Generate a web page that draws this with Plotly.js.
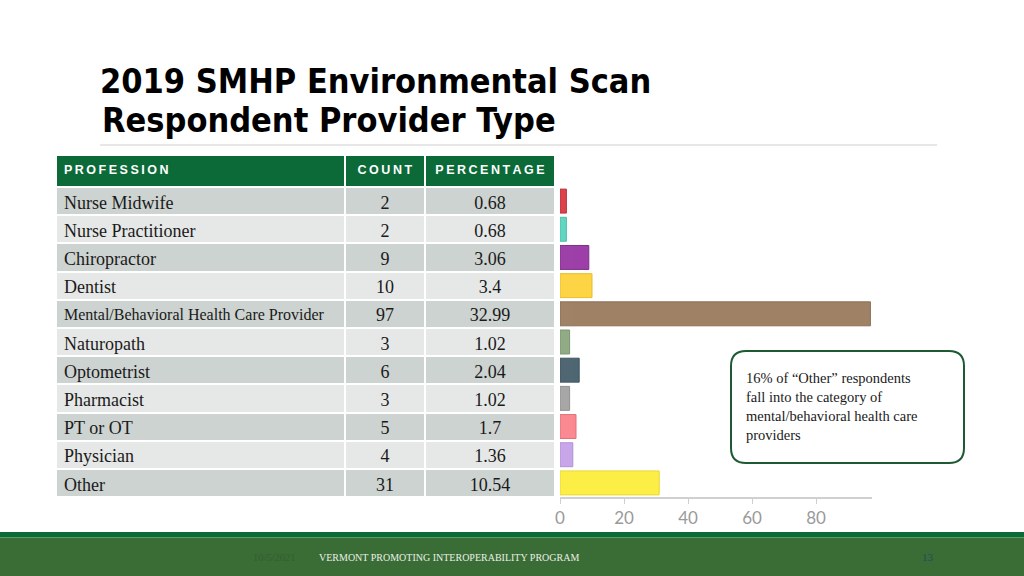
<!DOCTYPE html>
<html>
<head>
<meta charset="utf-8">
<script src="https://cdn.plot.ly/plotly-3.0.1.min.js"></script>
<style>
  html, body { margin: 0; padding: 0; background: #ffffff; }
  #chart { width: 1024px; height: 576px; }
</style>
</head>
<body>
<div id="chart"></div>
<script>
// ---- data ----
const professions = ["Nurse Midwife", "Nurse Practitioner", "Chiropractor", "Dentist",
  "Mental/Behavioral Health Care Provider", "Naturopath", "Optometrist", "Pharmacist",
  "PT or OT", "Physician", "Other"];
const counts = [2, 2, 9, 10, 97, 3, 6, 3, 5, 4, 31];
const percentages = ["0.68", "0.68", "3.06", "3.4", "32.99", "1.02", "2.04", "1.02", "1.7", "1.36", "10.54"];
const headers = ["PROFESSION", "COUNT", "PERCENTAGE"];
const xTicks = [0, 20, 40, 60, 80];
const titleLines = ["2019 SMHP Environmental Scan", "Respondent Provider Type"];
const noteText = ["16% of \u201cOther\u201d respondents", "fall into the category of", "mental/behavioral health care", "providers"];
const footerText = "VERMONT PROMOTING INTEROPERABILITY PROGRAM";
const footerDate = "10/5/2021";
const pageNumber = "13";

// ---- styles ----
const barColors = ["#dc4049", "#62d6c2", "#9c3fa8", "#fdd443", "#9f8265", "#8faa84",
  "#4e6672", "#a6a6a6", "#fb8891", "#c9a5ea", "#fdee45"];
const barLines = ["#b8323a", "#4fbba8", "#7e2f8a", "#e9bd2e", "#8a6f55", "#7a9470",
  "#3f5660", "#909090", "#e07079", "#b08fd2", "#e8d830"];
const W = 1024, H = 576;
const px = v => v / W;
const py = v => 1 - v / H;

const rowFill = professions.map((_, i) => i % 2 === 0 ? "#cdd3d0" : "#e6e8e7");
const nameSize = professions.map(p => p.length > 30 ? 16 : 18);
const numSize = professions.map(() => 18);
const spaced = s => s.split("").join("\u2009");

const tableTrace = {
  type: "table",
  domain: { x: [px(56), px(555)], y: [py(500), py(155)] },
  columnwidth: [289, 80, 130],
  header: {
    values: headers.map(h => "<b>" + spaced(h) + "</b>"),
    align: ["left", "center", "center"],
    height: 32,
    fill: { color: "#0c6a39" },
    line: { color: "#ffffff", width: 2 },
    font: { family: "Liberation Sans, Arial, sans-serif", size: 12.5, color: "#ffffff" }
  },
  cells: {
    values: [professions, counts.map(String), percentages],
    align: ["left", "center", "center"],
    height: 28.2,
    fill: { color: [rowFill, rowFill, rowFill] },
    line: { color: "#ffffff", width: 2 },
    font: { family: "Liberation Serif, Times New Roman, serif", size: [nameSize, numSize, numSize], color: "#1a1a1a" }
  }
};

const barTrace = {
  type: "bar",
  orientation: "h",
  y: professions,
  x: counts,
  width: 0.85,
  marker: { color: barColors, line: { color: barLines, width: 1 } },
  hoverinfo: "x+y",
  xaxis: "x", yaxis: "y"
};

function roundRect(x0, y0, x1, y1, r) {
  const rx = r / W, ry = r / H;
  const X0 = px(x0), X1 = px(x1), Y0 = py(y0), Y1 = py(y1);
  return `M ${X0 + rx},${Y0} L ${X1 - rx},${Y0} Q ${X1},${Y0} ${X1},${Y0 - ry} ` +
    `L ${X1},${Y1 + ry} Q ${X1},${Y1} ${X1 - rx},${Y1} L ${X0 + rx},${Y1} ` +
    `Q ${X0},${Y1} ${X0},${Y1 + ry} L ${X0},${Y0 - ry} Q ${X0},${Y0} ${X0 + rx},${Y0} Z`;
}

const layout = {
  width: W, height: H,
  margin: { l: 0, r: 0, t: 0, b: 0, pad: 0 },
  paper_bgcolor: "#ffffff",
  plot_bgcolor: "rgba(0,0,0,0)",
  showlegend: false,
  title: {
    text: "<b>" + titleLines[0] + "</b>",
    x: px(100), xanchor: "left", xref: "paper",
    y: py(81), yanchor: "middle", yref: "container",
    font: { family: "DejaVu Sans Condensed, Liberation Sans, Arial, sans-serif", size: 34, color: "#000000" }
  },
  xaxis: {
    domain: [px(560), px(872)],
    range: [0, 97.5],
    tickvals: xTicks,
    showgrid: false, zeroline: false,
    showline: true, linecolor: "#d0d0d0", linewidth: 2,
    ticks: "outside", ticklen: 5, tickcolor: "#d0d0d0", tickwidth: 1,
    tickfont: { family: "Lato, Open Sans, sans-serif", size: 17, color: "#9a9a9a" },
    fixedrange: true
  },
  yaxis: {
    domain: [py(497), py(187)],
    type: "category",
    autorange: "reversed",
    showticklabels: false, showgrid: false, zeroline: false, showline: false, ticks: "",
    fixedrange: true
  },
  shapes: [
    { type: "line", xref: "paper", yref: "paper", x0: px(100), x1: px(937), y0: py(145), y1: py(145),
      line: { color: "#cfcfcf", width: 1 } },
    { type: "rect", xref: "paper", yref: "paper", x0: 0, x1: 1, y0: py(537), y1: py(532),
      fillcolor: "#0b6a38", line: { width: 0 } },
    { type: "rect", xref: "paper", yref: "paper", x0: 0, x1: 1, y0: 0, y1: py(537),
      fillcolor: "#3a6c35", line: { width: 0 } },
    { type: "line", xref: "paper", yref: "paper", x0: 0, x1: 1, y0: py(537.5), y1: py(537.5),
      line: { color: "#5f9a68", width: 1 } },
    { type: "path", xref: "paper", yref: "paper", path: roundRect(731, 351, 964, 463, 15),
      fillcolor: "#ffffff", line: { color: "#1d5a34", width: 2 } }
  ],
  annotations: [
    { text: "<b>" + titleLines[1] + "</b>", xref: "paper", yref: "paper", x: px(100), y: py(120),
      xanchor: "left", yanchor: "middle", showarrow: false,
      font: { family: "DejaVu Sans Condensed, Liberation Sans, Arial, sans-serif", size: 34, color: "#000000" } },
    { text: noteText.join("<br>"), xref: "paper", yref: "paper", x: px(744), y: py(406),
      xanchor: "left", yanchor: "middle", align: "left", showarrow: false,
      font: { family: "Liberation Serif, Times New Roman, serif", size: 14.5, color: "#1a1a1a" } },
    { text: footerText, xref: "paper", yref: "paper", x: px(317), y: py(557),
      xanchor: "left", yanchor: "middle", showarrow: false,
      font: { family: "Liberation Serif, Times New Roman, serif", size: 10, color: "#e9f0e6" } },
    { text: footerDate, xref: "paper", yref: "paper", x: px(274), y: py(557),
      xanchor: "center", yanchor: "middle", showarrow: false,
      font: { family: "Liberation Serif, Times New Roman, serif", size: 10.5, color: "#325f30" } },
    { text: pageNumber, xref: "paper", yref: "paper", x: px(928), y: py(557),
      xanchor: "center", yanchor: "middle", showarrow: false,
      font: { family: "Liberation Serif, Times New Roman, serif", size: 11, color: "#1e4f5c" } }
  ]
};

Plotly.newPlot("chart", [tableTrace, barTrace], layout, { displayModeBar: false, staticPlot: false });
</script>
</body>
</html>
